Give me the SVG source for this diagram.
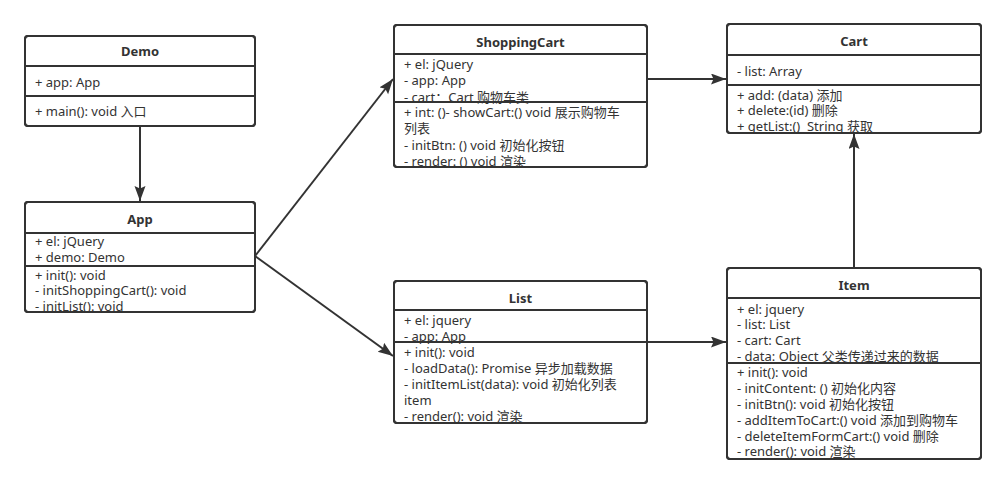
<svg xmlns="http://www.w3.org/2000/svg" width="1006" height="484" viewBox="0 0 1006 484">
<style>
.box{fill:#ffffff;stroke:#333333;stroke-width:2}
.div{stroke:#333333;stroke-width:2}
.t{font-family:"Noto Sans","Noto Sans CJK SC",sans-serif;font-size:13px;fill:#333333}
.h{font-family:"Noto Sans","Noto Sans CJK SC",sans-serif;font-size:13px;font-weight:bold;fill:#333333;text-anchor:middle}
.c{fill:none;stroke:#333333;stroke-width:2}
</style>
<defs>
<marker id="arr" markerUnits="userSpaceOnUse" markerWidth="16" markerHeight="12" refX="15" refY="5.5" orient="auto">
<path d="M0,0 L15,5.5 L0,11 L2.5,5.5 Z" fill="#333333"/>
</marker>
<clipPath id="cDemo"><rect x="25" y="36" width="230" height="90"/></clipPath>
<clipPath id="cApp"><rect x="25" y="202" width="230" height="110"/></clipPath>
<clipPath id="cSC"><rect x="394" y="25" width="253" height="142"/></clipPath>
<clipPath id="cList"><rect x="394" y="281" width="253" height="142"/></clipPath>
<clipPath id="cCart"><rect x="727" y="24" width="254" height="109"/></clipPath>
<clipPath id="cItem"><rect x="727" y="268" width="254" height="191"/></clipPath>
</defs>
<rect width="1006" height="484" fill="#ffffff"/>

<g id="connectors">
<line class="c" x1="140" y1="126" x2="140" y2="201" marker-end="url(#arr)"/>
<line class="c" x1="255" y1="256" x2="393" y2="79" marker-end="url(#arr)"/>
<line class="c" x1="255" y1="256" x2="393" y2="356" marker-end="url(#arr)"/>
<line class="c" x1="647" y1="79" x2="726" y2="79" marker-end="url(#arr)"/>
<line class="c" x1="647" y1="342" x2="726" y2="342" marker-end="url(#arr)"/>
<line class="c" x1="854" y1="268" x2="854" y2="134" marker-end="url(#arr)"/>
</g>

<g id="Demo">
<rect class="box" x="25" y="36" width="230" height="90" rx="3"/>
<g clip-path="url(#cDemo)">
<text class="h" x="140" y="56">Demo</text>
<text class="t" x="35" y="87">+ app: App</text>
<text class="t" x="35" y="116">+ main(): void 入口</text>
</g>
<line class="div" x1="25" y1="66" x2="255" y2="66"/>
<line class="div" x1="25" y1="96" x2="255" y2="96"/>
<rect class="box" x="25" y="36" width="230" height="90" rx="3" fill="none" style="fill:none"/>
</g>

<g id="App">
<rect class="box" x="25" y="202" width="230" height="110" rx="3"/>
<g clip-path="url(#cApp)">
<text class="h" x="140" y="224">App</text>
<text class="t" x="35" y="246">+ el: jQuery</text>
<text class="t" x="35" y="262">+ demo: Demo</text>
<text class="t" x="35" y="280">+ init(): void</text>
<text class="t" x="35" y="295">- initShoppingCart(): void</text>
<text class="t" x="35" y="311">- initList(): void</text>
</g>
<line class="div" x1="25" y1="233" x2="255" y2="233"/>
<line class="div" x1="25" y1="266" x2="255" y2="266"/>
<rect class="box" x="25" y="202" width="230" height="110" rx="3" style="fill:none"/>
</g>

<g id="ShoppingCart">
<rect class="box" x="394" y="25" width="253" height="142" rx="3"/>
<g clip-path="url(#cSC)">
<text class="h" x="520.5" y="47">ShoppingCart</text>
<text class="t" x="404" y="68.5">+ el: jQuery</text>
<text class="t" x="404" y="85">- app: App</text>
<text class="t" x="404" y="101.5">- cart：Cart 购物车类</text>
<text class="t" x="404" y="117">+ int: ()- showCart:() void 展示购物车</text>
<text class="t" x="404" y="133">列表</text>
<text class="t" x="404" y="149.5">- initBtn: () void 初始化按钮</text>
<text class="t" x="404" y="165.5">- render: () void 渲染</text>
</g>
<line class="div" x1="394" y1="54" x2="647" y2="54"/>
<line class="div" x1="394" y1="102" x2="647" y2="102"/>
<rect class="box" x="394" y="25" width="253" height="142" rx="3" style="fill:none"/>
</g>

<g id="List">
<rect class="box" x="394" y="281" width="253" height="142" rx="3"/>
<g clip-path="url(#cList)">
<text class="h" x="520.5" y="302.5">List</text>
<text class="t" x="404" y="324.5">+ el: jquery</text>
<text class="t" x="404" y="341">- app: App</text>
<text class="t" x="404" y="356.5">+ init(): void</text>
<text class="t" x="404" y="373">- loadData(): Promise 异步加载数据</text>
<text class="t" x="404" y="389">- initItemList(data): void 初始化列表</text>
<text class="t" x="404" y="405">item</text>
<text class="t" x="404" y="421">- render(): void 渲染</text>
</g>
<line class="div" x1="394" y1="310" x2="647" y2="310"/>
<line class="div" x1="394" y1="342" x2="647" y2="342"/>
<rect class="box" x="394" y="281" width="253" height="142" rx="3" style="fill:none"/>
</g>

<g id="Cart">
<rect class="box" x="727" y="24" width="254" height="109" rx="3"/>
<g clip-path="url(#cCart)">
<text class="h" x="854" y="45.5">Cart</text>
<text class="t" x="737" y="76">- list: Array</text>
<text class="t" x="737" y="99.5">+ add: (data) 添加</text>
<text class="t" x="737" y="115">+ delete:(id) 删除</text>
<text class="t" x="737" y="130.5" xml:space="preserve">+ getList:()  String 获取</text>
</g>
<line class="div" x1="727" y1="55" x2="981" y2="55"/>
<line class="div" x1="727" y1="85" x2="981" y2="85"/>
<rect class="box" x="727" y="24" width="254" height="109" rx="3" style="fill:none"/>
</g>

<g id="Item">
<rect class="box" x="727" y="268" width="254" height="191" rx="3"/>
<g clip-path="url(#cItem)">
<text class="h" x="854" y="289.5">Item</text>
<text class="t" x="737" y="313.5">+ el: jquery</text>
<text class="t" x="737" y="329">- list: List</text>
<text class="t" x="737" y="344.5">- cart: Cart</text>
<text class="t" x="737" y="361">- data: Object 父类传递过来的数据</text>
<text class="t" x="737" y="377">+ init(): void</text>
<text class="t" x="737" y="392.5">- initContent: () 初始化内容</text>
<text class="t" x="737" y="408.5">- initBtn(): void 初始化按钮</text>
<text class="t" x="737" y="424.5">- addItemToCart:() void 添加到购物车</text>
<text class="t" x="737" y="440.5">- deleteItemFormCart:() void 删除</text>
<text class="t" x="737" y="456">- render(): void 渲染</text>
</g>
<line class="div" x1="727" y1="298" x2="981" y2="298"/>
<line class="div" x1="727" y1="363" x2="981" y2="363"/>
<rect class="box" x="727" y="268" width="254" height="191" rx="3" style="fill:none"/>
</g>
</svg>
